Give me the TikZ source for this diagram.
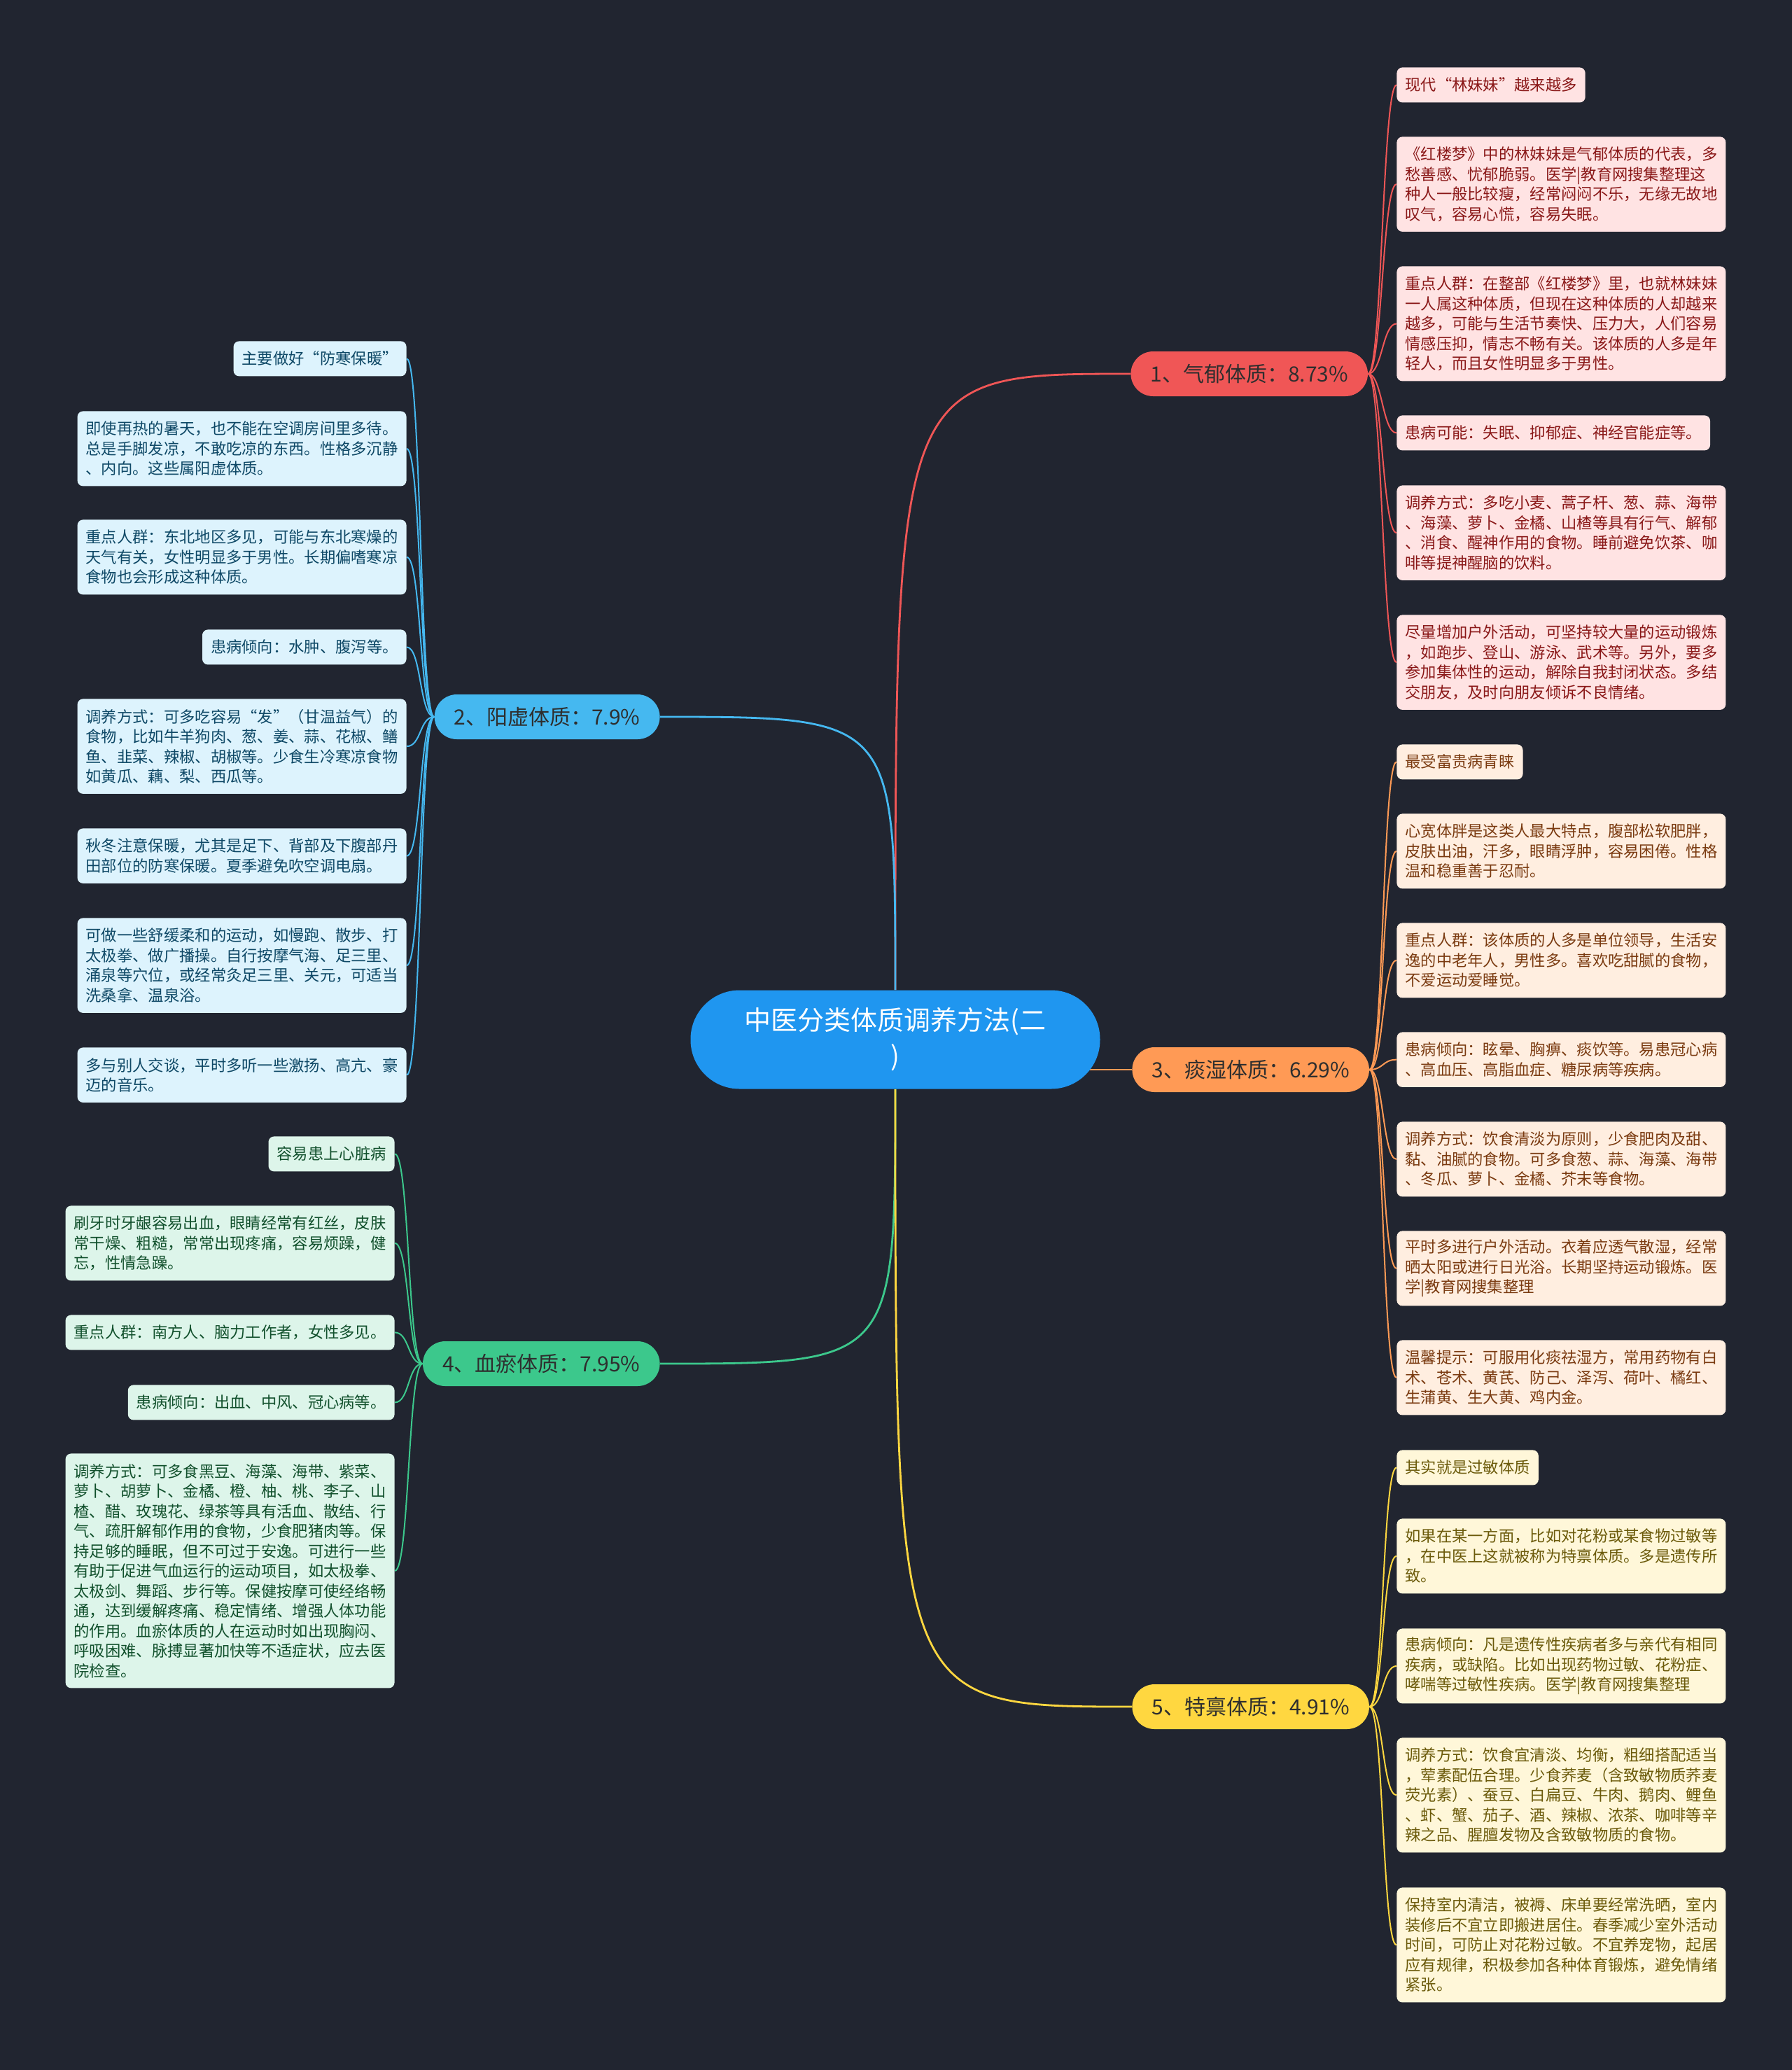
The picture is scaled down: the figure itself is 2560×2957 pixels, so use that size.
\documentclass[tikz,border=0pt]{standalone}
\usepackage{fontspec}
\setmainfont{Noto Sans CJK SC}
\usetikzlibrary{calc}
\pgfdeclarelayer{bg}
\pgfsetlayers{bg,main}
\definecolor{bgc}{HTML}{212530}
\definecolor{cen}{HTML}{1F96F0}
\definecolor{brtext}{HTML}{2E2E2E}
\definecolor{cR}{HTML}{F05656}\definecolor{fR}{HTML}{FFE3E3}\definecolor{tR}{HTML}{8A1818}
\definecolor{cB}{HTML}{45B8F0}\definecolor{fB}{HTML}{DDF3FD}\definecolor{tB}{HTML}{0E4866}
\definecolor{cO}{HTML}{FF9A55}\definecolor{fO}{HTML}{FFEEE0}\definecolor{tO}{HTML}{7A3A10}
\definecolor{cG}{HTML}{3CC88C}\definecolor{fG}{HTML}{DDF5EA}\definecolor{tG}{HTML}{11502C}
\definecolor{cY}{HTML}{FFD740}\definecolor{fY}{HTML}{FFF7D9}\definecolor{tY}{HTML}{6B5A0A}
\begin{document}
\begin{tikzpicture}[x=0.5pt,y=-0.5pt,
  leaf/.style={rounded corners=4pt, inner xsep=6pt, inner ysep=0pt, align=left,
    font=\fontsize{11.15pt}{14.25pt}\selectfont},
  nl/.style={minimum height={14.25pt*#1+10.75pt}},
  rleaf/.style={leaf, anchor=north west},
  lleaf/.style={leaf, anchor=north east},
  lR/.style={rleaf, fill=fR, text=tR},
  lO/.style={rleaf, fill=fO, text=tO},
  lY/.style={rleaf, fill=fY, text=tY},
  lB/.style={lleaf, fill=fB, text=tB},
  lG/.style={lleaf, fill=fG, text=tG},
  br/.style={rounded corners=16pt, minimum height=32pt, inner xsep=14pt, inner ysep=0pt,
    font=\fontsize{15pt}{18pt}\selectfont, text=brtext},
  cnode/.style={fill=cen, text=white, rounded corners=35pt, minimum width=292.5pt,
    minimum height=70.5pt, align=center, inner sep=0pt, font=\fontsize{19pt}{25.5pt}\selectfont},
  mainline/.style={line width=1.4pt},
  leafline/.style={line width=1pt}
]
\useasboundingbox (0,0) rectangle (2560,2957);

% center
\node[cnode] (c) at (1279,1485) {中医分类体质调养方法(二\\)};

% branches
\node[br, fill=cR, anchor=west] (b1) at (1615,534) {1、气郁体质：8.73\%};
\node[br, fill=cB, anchor=east] (b2) at (943,1024) {2、阳虚体质：7.9\%};
\node[br, fill=cO, anchor=west] (b3) at (1617,1528) {3、痰湿体质：6.29\%};
\node[br, fill=cG, anchor=east] (b4) at (943,1948) {4、血瘀体质：7.95\%};
\node[br, fill=cY, anchor=west] (b5) at (1617,2438) {5、特禀体质：4.91\%};

% branch 1 leaves
\node[lR, nl=1] (r1) at (1995,96) {现代“林妹妹”越来越多};
\node[lR, nl=4] (r2) at (1995,195) {《红楼梦》中的林妹妹是气郁体质的代表，多\\愁善感、忧郁脆弱。医学|教育网搜集整理这\\种人一般比较瘦，经常闷闷不乐，无缘无故地\\叹气，容易心慌，容易失眠。};
\node[lR, nl=5] (r3) at (1995,380) {重点人群：在整部《红楼梦》里，也就林妹妹\\一人属这种体质，但现在这种体质的人却越来\\越多，可能与生活节奏快、压力大，人们容易\\情感压抑，情志不畅有关。该体质的人多是年\\轻人，而且女性明显多于男性。};
\node[lR, nl=1] (r4) at (1995,593) {患病可能：失眠、抑郁症、神经官能症等。};
\node[lR, nl=4] (r5) at (1995,693) {调养方式：多吃小麦、蒿子杆、葱、蒜、海带\\、海藻、萝卜、金橘、山楂等具有行气、解郁\\、消食、醒神作用的食物。睡前避免饮茶、咖\\啡等提神醒脑的饮料。};
\node[lR, nl=4] (r6) at (1995,878) {尽量增加户外活动，可坚持较大量的运动锻炼\\，如跑步、登山、游泳、武术等。另外，要多\\参加集体性的运动，解除自我封闭状态。多结\\交朋友，及时向朋友倾诉不良情绪。};

% branch 3 leaves
\node[lO, nl=1] (o1) at (1995,1063) {最受富贵病青睐};
\node[lO, nl=3] (o2) at (1995,1162) {心宽体胖是这类人最大特点，腹部松软肥胖，\\皮肤出油，汗多，眼睛浮肿，容易困倦。性格\\温和稳重善于忍耐。};
\node[lO, nl=3] (o3) at (1995,1318) {重点人群：该体质的人多是单位领导，生活安\\逸的中老年人，男性多。喜欢吃甜腻的食物，\\不爱运动爱睡觉。};
\node[lO, nl=2] (o4) at (1995,1474) {患病倾向：眩晕、胸痹、痰饮等。易患冠心病\\、高血压、高脂血症、糖尿病等疾病。};
\node[lO, nl=3] (o5) at (1995,1602) {调养方式：饮食清淡为原则，少食肥肉及甜、\\黏、油腻的食物。可多食葱、蒜、海藻、海带\\、冬瓜、萝卜、金橘、芥末等食物。};
\node[lO, nl=3] (o6) at (1995,1758) {平时多进行户外活动。衣着应透气散湿，经常\\晒太阳或进行日光浴。长期坚持运动锻炼。医\\学|教育网搜集整理};
\node[lO, nl=3] (o7) at (1995,1914) {温馨提示：可服用化痰祛湿方，常用药物有白\\术、苍术、黄芪、防己、泽泻、荷叶、橘红、\\生蒲黄、生大黄、鸡内金。};

% branch 5 leaves
\node[lY, nl=1] (y1) at (1995,2071) {其实就是过敏体质};
\node[lY, nl=3] (y2) at (1995,2169) {如果在某一方面，比如对花粉或某食物过敏等\\，在中医上这就被称为特禀体质。多是遗传所\\致。};
\node[lY, nl=3] (y3) at (1995,2326) {患病倾向：凡是遗传性疾病者多与亲代有相同\\疾病，或缺陷。比如出现药物过敏、花粉症、\\哮喘等过敏性疾病。医学|教育网搜集整理};
\node[lY, nl=5] (y4) at (1995,2482) {调养方式：饮食宜清淡、均衡，粗细搭配适当\\，荤素配伍合理。少食荞麦（含致敏物质荞麦\\荧光素）、蚕豆、白扁豆、牛肉、鹅肉、鲤鱼\\、虾、蟹、茄子、酒、辣椒、浓茶、咖啡等辛\\辣之品、腥膻发物及含致敏物质的食物。};
\node[lY, nl=5] (y5) at (1995,2696) {保持室内清洁，被褥、床单要经常洗晒，室内\\装修后不宜立即搬进居住。春季减少室外活动\\时间，可防止对花粉过敏。不宜养宠物，起居\\应有规律，积极参加各种体育锻炼，避免情绪\\紧张。};

% branch 2 leaves
\node[lB, nl=1] (u1) at (581,487) {主要做好“防寒保暖”};
\node[lB, nl=3] (u2) at (581,587) {即使再热的暑天，也不能在空调房间里多待。\\总是手脚发凉，不敢吃凉的东西。性格多沉静\\、内向。这些属阳虚体质。};
\node[lB, nl=3] (u3) at (581,742) {重点人群：东北地区多见，可能与东北寒燥的\\天气有关，女性明显多于男性。长期偏嗜寒凉\\食物也会形成这种体质。};
\node[lB, nl=1] (u4) at (581,899) {患病倾向：水肿、腹泻等。};
\node[lB, nl=4] (u5) at (581,998) {调养方式：可多吃容易“发”（甘温益气）的\\食物，比如牛羊狗肉、葱、姜、蒜、花椒、鳝\\鱼、韭菜、辣椒、胡椒等。少食生冷寒凉食物\\如黄瓜、藕、梨、西瓜等。};
\node[lB, nl=2] (u6) at (581,1183) {秋冬注意保暖，尤其是足下、背部及下腹部丹\\田部位的防寒保暖。夏季避免吹空调电扇。};
\node[lB, nl=4] (u7) at (581,1311) {可做一些舒缓柔和的运动，如慢跑、散步、打\\太极拳、做广播操。自行按摩气海、足三里、\\涌泉等穴位，或经常灸足三里、关元，可适当\\洗桑拿、温泉浴。};
\node[lB, nl=2] (u8) at (581,1496) {多与别人交谈，平时多听一些激扬、高亢、豪\\迈的音乐。};

% branch 4 leaves
\node[lG, nl=1] (g1) at (564,1623) {容易患上心脏病};
\node[lG, nl=3] (g2) at (564,1722) {刷牙时牙龈容易出血，眼睛经常有红丝，皮肤\\常干燥、粗糙，常常出现疼痛，容易烦躁，健\\忘，性情急躁。};
\node[lG, nl=1] (g3) at (564,1878) {重点人群：南方人、脑力工作者，女性多见。};
\node[lG, nl=1] (g4) at (564,1978) {患病倾向：出血、中风、冠心病等。};
\node[lG, nl=11] (g5) at (564,2076) {调养方式：可多食黑豆、海藻、海带、紫菜、\\萝卜、胡萝卜、金橘、橙、柚、桃、李子、山\\楂、醋、玫瑰花、绿茶等具有活血、散结、行\\气、疏肝解郁作用的食物，少食肥猪肉等。保\\持足够的睡眠，但不可过于安逸。可进行一些\\有助于促进气血运行的运动项目，如太极拳、\\太极剑、舞蹈、步行等。保健按摩可使经络畅\\通，达到缓解疼痛、稳定情绪、增强人体功能\\的作用。血瘀体质的人在运动时如出现胸闷、\\呼吸困难、脉搏显著加快等不适症状，应去医\\院检查。};

\begin{pgfonlayer}{bg}
\fill[bgc] (0,0) rectangle (2560,2957);
% main connectors
\draw[mainline, cR] (c.north) .. controls (c.north |- b1.west) and (c.north |- b1.west) .. (b1.west);
\draw[mainline, cB] (c.north) .. controls (c.north |- b2.east) and (c.north |- b2.east) .. (b2.east);
\draw[mainline, cO] (c.center |- b3.west) -- (b3.west);
\draw[mainline, cG] (c.south) .. controls (c.south |- b4.east) and (c.south |- b4.east) .. (b4.east);
\draw[mainline, cY] (c.south) .. controls (c.south |- b5.west) and (c.south |- b5.west) .. (b5.west);
% leaf connectors
\foreach \n in {r1,r2,r3,r4,r5,r6}
  \draw[leafline, cR] (b1.east) .. controls +(20,0) and +(-20,0) .. (\n.west);
\foreach \n in {o1,o2,o3,o4,o5,o6,o7}
  \draw[leafline, cO] (b3.east) .. controls +(20,0) and +(-20,0) .. (\n.west);
\foreach \n in {y1,y2,y3,y4,y5}
  \draw[leafline, cY] (b5.east) .. controls +(20,0) and +(-20,0) .. (\n.west);
\foreach \n in {u1,u2,u3,u4,u5,u6,u7,u8}
  \draw[leafline, cB] (b2.west) .. controls +(-21,0) and +(21,0) .. (\n.east);
\foreach \n in {g1,g2,g3,g4,g5}
  \draw[leafline, cG] (b4.west) .. controls +(-21,0) and +(21,0) .. (\n.east);
\end{pgfonlayer}
\end{tikzpicture}
\end{document}
